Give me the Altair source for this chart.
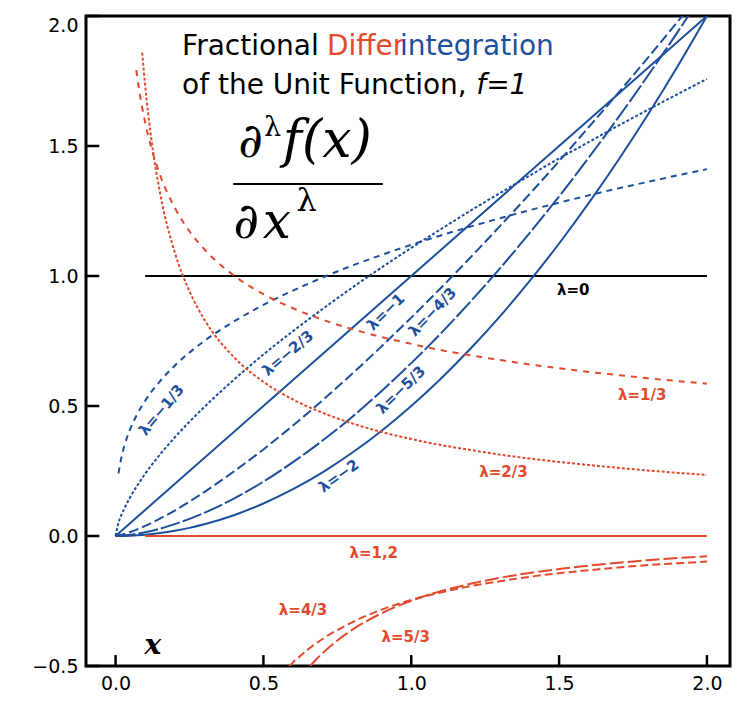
import altair as alt
import pandas as pd

# ---------------- data ----------------
# lambda = 0 (black)
x_l0 = [0.1, 2.0]
y_l0 = [1.0, 1.0]

# blue: integrations
x_m13 = [0.01, 0.02, 0.03, 0.05, 0.07, 0.1, 0.15, 0.2, 0.3, 0.4, 0.5, 0.6, 0.7, 0.8, 0.9, 1.0,
         1.1, 1.2, 1.3, 1.4, 1.5, 1.6, 1.7, 1.8, 1.9, 2.0]
y_m13 = [0.241, 0.304, 0.348, 0.4125, 0.4615, 0.520, 0.595, 0.655, 0.750, 0.825, 0.889, 0.944, 0.994, 1.040, 1.081, 1.120,
         1.156, 1.190, 1.222, 1.253, 1.282, 1.310, 1.337, 1.362, 1.387, 1.411]

x_m23 = [0.0, 0.01, 0.02, 0.03, 0.05, 0.1, 0.15, 0.2, 0.3, 0.4, 0.5, 0.6, 0.7, 0.8, 0.9, 1.0,
         1.1, 1.2, 1.3, 1.4, 1.5, 1.6, 1.7, 1.8, 1.9, 2.0]
y_m23 = [0.0, 0.051, 0.082, 0.107, 0.150, 0.239, 0.313, 0.379, 0.496, 0.601, 0.698, 0.788, 0.873, 0.955, 1.033, 1.108,
         1.180, 1.251, 1.319, 1.386, 1.452, 1.515, 1.578, 1.639, 1.699, 1.758]

x_m1 = [0.0, 0.5, 1.0, 1.5, 2.0]
y_m1 = [0.0, 0.5, 1.0, 1.5, 2.0]

x_m43 = [0.0, 0.02, 0.05, 0.1, 0.2, 0.3, 0.4, 0.5, 0.6, 0.7, 0.8, 0.9, 1.0,
         1.1, 1.2, 1.3, 1.4, 1.5, 1.6, 1.7, 1.8, 1.9, 2.0]
y_m43 = [0.0, 0.0046, 0.0155, 0.039, 0.098, 0.169, 0.248, 0.333, 0.425, 0.522, 0.624, 0.730, 0.840,
         0.954, 1.071, 1.192, 1.315, 1.442, 1.572, 1.704, 1.839, 1.977, 2.116]

x_m53 = [0.0, 0.02, 0.05, 0.1, 0.2, 0.3, 0.4, 0.5, 0.6, 0.7, 0.8, 0.9, 1.0,
         1.1, 1.2, 1.3, 1.4, 1.5, 1.6, 1.7, 1.8, 1.9, 2.0]
y_m53 = [0.0, 0.001, 0.0045, 0.0143, 0.0455, 0.089, 0.144, 0.209, 0.284, 0.367, 0.458, 0.558, 0.665,
         0.779, 0.901, 1.029, 1.165, 1.306, 1.455, 1.609, 1.770, 1.937, 2.110]

x_m2 = [0.0, 0.05, 0.1, 0.15, 0.2, 0.25, 0.3, 0.4, 0.5, 0.6, 0.7, 0.8, 0.9, 1.0,
        1.1, 1.2, 1.3, 1.4, 1.5, 1.6, 1.7, 1.8, 1.9, 2.0]
y_m2 = [0.0, 0.00125, 0.005, 0.01125, 0.02, 0.03125, 0.045, 0.08, 0.125, 0.18, 0.245, 0.32, 0.405, 0.5,
        0.605, 0.72, 0.845, 0.98, 1.125, 1.28, 1.445, 1.62, 1.805, 2.0]

# red: derivatives
x_p13 = [0.07, 0.08, 0.1, 0.12, 0.15, 0.2, 0.25, 0.3, 0.4, 0.5, 0.6, 0.7, 0.8, 0.9, 1.0,
         1.1, 1.2, 1.3, 1.4, 1.5, 1.6, 1.7, 1.8, 1.9, 2.0]
y_p13 = [1.792, 1.714, 1.591, 1.497, 1.390, 1.263, 1.172, 1.103, 1.002, 0.930, 0.876, 0.832, 0.796, 0.765, 0.739,
         0.715, 0.695, 0.677, 0.660, 0.645, 0.631, 0.619, 0.607, 0.596, 0.586]

x_p23 = [0.09, 0.1, 0.12, 0.15, 0.2, 0.25, 0.3, 0.4, 0.5, 0.6, 0.7, 0.8, 0.9, 1.0,
         1.1, 1.2, 1.3, 1.4, 1.5, 1.6, 1.7, 1.8, 1.9, 2.0]
y_p23 = [1.859, 1.733, 1.535, 1.322, 1.092, 0.941, 0.833, 0.688, 0.593, 0.525, 0.474, 0.433, 0.400, 0.373,
         0.350, 0.331, 0.313, 0.298, 0.285, 0.273, 0.262, 0.252, 0.243, 0.235]

x_p12 = [0.1, 2.0]
y_p12 = [0.0, 0.0]

x_p43 = [0.588, 0.6, 0.62, 0.65, 0.7, 0.8, 0.9, 1.0, 1.1, 1.2, 1.3, 1.4, 1.5, 1.6, 1.7, 1.8, 1.9, 2.0]
y_p43 = [-0.500, -0.486, -0.466, -0.437, -0.396, -0.332, -0.283, -0.246, -0.217, -0.193, -0.174, -0.157,
         -0.143, -0.132, -0.121, -0.112, -0.105, -0.098]

x_p53 = [0.658, 0.68, 0.7, 0.75, 0.8, 0.9, 1.0, 1.1, 1.2, 1.3, 1.4, 1.5, 1.6, 1.7, 1.8, 1.9, 2.0]
y_p53 = [-0.500, -0.473, -0.451, -0.402, -0.361, -0.297, -0.249, -0.212, -0.184, -0.161, -0.142,
         -0.127, -0.114, -0.103, -0.093, -0.085, -0.078]

x_ticks = [0.0, 0.5, 1.0, 1.5, 2.0]
y_ticks = [-0.5, 0.0, 0.5, 1.0, 1.5, 2.0]

# ---------------- styling ----------------
BLUE = "#1d4f9c"
RED = "#e2492d"
BLACK = "#000000"
SANS = "DejaVu Sans"
SERIF = "DejaVu Serif"

XMIN, XMAX = -0.1, 2.078
YMIN, YMAX = -0.5, 2.0

xscale = alt.Scale(domain=[XMIN, XMAX], nice=False, zero=False)
yscale = alt.Scale(domain=[YMIN, YMAX], nice=False, zero=False)
xaxis = alt.Axis(values=x_ticks, format=".1f", title=None, grid=False, domain=False,
                 ticks=False, tickSize=0, labelPadding=8, labelFontSize=19, labelFont=SANS,
                 labelColor="black")
yaxis = alt.Axis(values=y_ticks, format=".1f", title=None, grid=False, domain=False,
                 ticks=False, tickSize=0, labelPadding=8, labelFontSize=19, labelFont=SANS,
                 labelColor="black",
                 labelBaseline={"condition": {"test": "datum.value >= 2", "value": "top"},
                                "value": "middle"})


def X(field="x"):
    return alt.X(f"{field}:Q", scale=xscale, axis=xaxis)


def Y(field="y"):
    return alt.Y(f"{field}:Q", scale=yscale, axis=yaxis)


series = [
    (x_l0, y_l0, BLACK, None),
    (x_m13, y_m13, BLUE, [6, 5]),
    (x_m23, y_m23, BLUE, [3, 2]),
    (x_m1, y_m1, BLUE, None),
    (x_m43, y_m43, BLUE, [10, 4]),
    (x_m53, y_m53, BLUE, [20, 3]),
    (x_m2, y_m2, BLUE, None),
    (x_p13, y_p13, RED, [6, 6]),
    (x_p23, y_p23, RED, [3, 2]),
    (x_p12, y_p12, RED, None),
    (x_p43, y_p43, RED, [8, 4]),
    (x_p53, y_p53, RED, [14, 4]),
]

layers = []
for xs, ys, col, dash in series:
    df = pd.DataFrame({"x": xs, "y": ys})
    kw = dict(color=col, strokeWidth=2, clip=True, interpolate="monotone")
    if dash:
        kw["strokeDash"] = dash
    layers.append(alt.Chart(df).mark_line(**kw).encode(x=X(), y=Y()))

# inward tick marks on left and bottom
ytick_df = pd.DataFrame({"y": y_ticks, "x": [XMIN] * len(y_ticks), "x2": [XMIN + 0.045] * len(y_ticks)})
layers.append(alt.Chart(ytick_df).mark_rule(color="black", strokeWidth=2.5).encode(
    x=X(), x2="x2:Q", y=Y()))
xtick_df = pd.DataFrame({"x": x_ticks, "y": [YMIN] * len(x_ticks), "y2": [YMIN + 0.042] * len(x_ticks)})
layers.append(alt.Chart(xtick_df).mark_rule(color="black", strokeWidth=2.5).encode(
    x=X(), y=Y(), y2="y2:Q"))


def label(text, x, y, color, size=15, angle=0, weight="bold", font=SANS,
          align="center", baseline="middle", style="normal"):
    df = pd.DataFrame({"x": [x], "y": [y], "t": [text]})
    return alt.Chart(df).mark_text(
        color=color, fontSize=size, angle=angle, fontWeight=weight, font=font,
        align=align, baseline=baseline, fontStyle=style
    ).encode(x=X(), y=Y(), text="t:N")


# curve labels
layers += [
    label("λ=−1/3", 0.155, 0.485, BLUE, angle=310),
    label("λ=−2/3", 0.583, 0.704, BLUE, angle=320),
    label("λ=−1", 0.914, 0.862, BLUE, angle=316),
    label("λ=−4/3", 1.072, 0.862, BLUE, angle=314),
    label("λ=−5/3", 0.965, 0.562, BLUE, angle=316),
    label("λ=−2", 0.755, 0.231, BLUE, angle=325),
    label("λ=0", 1.548, 0.946, BLACK),
    label("λ=1/3", 1.781, 0.542, RED),
    label("λ=2/3", 1.312, 0.246, RED),
    label("λ=1,2", 0.873, -0.065, RED),
    label("λ=4/3", 0.634, -0.285, RED),
    label("λ=5/3", 0.981, -0.388, RED),
]

# title
layers += [
    label("Fractional", 0.225, 1.85, BLACK, size=28, weight="normal", align="left", baseline="alphabetic"),
    label("Differ", 0.715, 1.85, RED, size=28, weight="normal", align="left", baseline="alphabetic"),
    label("integration", 0.962, 1.85, BLUE, size=28, weight="normal", align="left", baseline="alphabetic"),
    label("of the Unit Function,", 0.225, 1.70, BLACK, size=28, weight="normal", align="left", baseline="alphabetic"),
    label("f=1", 1.22, 1.70, BLACK, size=28, weight="normal", align="left", baseline="alphabetic", style="italic"),
]

# formula  d^λ f(x) / d x^λ
layers += [
    label("∂", 0.415, 1.458, BLACK, size=48, weight="normal", font=SERIF, align="left", baseline="alphabetic"),
    label("λ", 0.502, 1.54, BLACK, size=27, weight="normal", font=SERIF, align="left", baseline="alphabetic"),
    label("f(x)", 0.565, 1.458, BLACK, size=52, weight="normal", font=SERIF, align="left",
          baseline="alphabetic", style="italic"),
    label("∂", 0.398, 1.146, BLACK, size=50, weight="normal", font=SERIF, align="left", baseline="alphabetic"),
    label("x", 0.498, 1.146, BLACK, size=50, weight="normal", font=SERIF, align="left", baseline="alphabetic",
          style="italic"),
    label("λ", 0.612, 1.25, BLACK, size=32, weight="normal", font=SERIF, align="left", baseline="alphabetic"),
    label("x", 0.098, -0.454, BLACK, size=28, weight="bold", font=SERIF, align="left", baseline="alphabetic",
          style="italic"),
]
frac_df = pd.DataFrame({"x": [0.398], "x2": [0.904], "y": [1.354]})
layers.append(alt.Chart(frac_df).mark_rule(color="black", strokeWidth=2).encode(x=X(), x2="x2:Q", y=Y()))

chart = alt.layer(*layers).properties(
    width=644, height=650,
    autosize=alt.AutoSizeParams(type="none"),
    padding={"left": 78, "top": 8, "right": 2, "bottom": 28},
).configure_view(stroke="black", strokeWidth=3)

chart.save("out.html", embed_options={"renderer": "svg", "actions": False})
